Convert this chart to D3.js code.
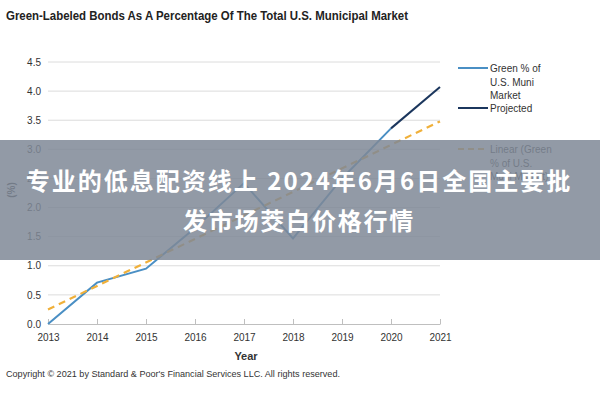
<!DOCTYPE html>
<html><head><meta charset="utf-8">
<script src="https://cdn.jsdelivr.net/npm/d3@7"></script>
<style>
html,body{margin:0;padding:0;background:#fff;}
svg{display:block;}
.narrow{font-family:"Liberation Sans Narrow","Arial Narrow","Liberation Sans",Arial,sans-serif;}
</style></head>
<body>
<svg id="c" width="600" height="400"></svg>
<script>
const years = [2013, 2014, 2015, 2016, 2017, 2018, 2019, 2020];
const greenPct = [0.0, 0.71, 0.95, 1.65, 2.42, 1.47, 2.50, 3.36];
const projYears = [2020, 2021];
const projected = [3.36, 4.07];
const trendYears = [2013, 2021];
const trendVals = [0.25, 3.48];
const xTicks = [2013, 2014, 2015, 2016, 2017, 2018, 2019, 2020, 2021];
const yTicks = [0, 0.5, 1, 1.5, 2, 2.5, 3, 3.5, 4, 4.5];
const legendItems = [
  {lines: ["Green % of", "U.S. Muni", "Market"], color: "#4a8fc4", dash: null},
  {lines: ["Projected"], color: "#1b365d", dash: null},
  {lines: ["Linear (Green", "% of U.S.", "Muni Market)"], color: "#f0b03a", dash: "6,4"}
];
const titleText = "Green-Labeled Bonds As A Percentage Of The Total U.S. Municipal Market";
const copyrightText = "Copyright \u00a9 2021 by Standard & Poor's Financial Services LLC. All rights reserved.";
const bannerLines = ["专业的低息配资线上 2024年6月6日全国主要批", "发市场茭白价格行情"];

const svg = d3.select("#c");
const x = d3.scaleLinear().domain([2013, 2021]).range([48, 440]);
const y = d3.scaleLinear().domain([0, 4.5]).range([324, 62]);

// title
svg.append("text").attr("class","narrow").attr("x",6).attr("y",20)
  .attr("font-size",12.5).attr("font-weight","bold").attr("fill","#222")
  .attr("textLength",402).attr("lengthAdjust","spacingAndGlyphs")
  .text(titleText);

// gridlines
svg.append("g").selectAll("line").data(yTicks.filter(d=>d>0)).join("line")
  .attr("x1",48).attr("x2",440).attr("y1",d=>y(d)).attr("y2",d=>y(d))
  .attr("stroke","#dcdcdc").attr("stroke-width",1);

// y axis
const yAxis = svg.append("g").attr("transform","translate(48,0)")
  .call(d3.axisLeft(y).tickValues(yTicks).tickFormat(d3.format(".1f")).tickSize(0).tickPadding(7));
yAxis.select(".domain").remove();
yAxis.selectAll("text").attr("class","narrow").attr("font-size",10).attr("fill","#333");

// x axis
const xAxis = svg.append("g").attr("transform","translate(0,324)")
  .call(d3.axisBottom(x).tickValues(xTicks).tickFormat(d3.format("d")).tickSize(-5).tickSizeOuter(0).tickPadding(10));
xAxis.select(".domain").attr("stroke","#bfbfbf");
xAxis.selectAll(".tick line").attr("stroke","#bfbfbf");
xAxis.selectAll("text").attr("class","narrow").attr("font-size",10).attr("fill","#333");

// axis titles
svg.append("text").attr("class","narrow").attr("transform","translate(15,190) rotate(-90)")
  .attr("text-anchor","middle").attr("font-size",10).attr("font-weight","bold").attr("fill","#333").text("(%)");
svg.append("text").attr("class","narrow").attr("x",246).attr("y",360)
  .attr("text-anchor","middle").attr("font-size",11).attr("font-weight","bold").attr("fill","#333").text("Year");

// lines
const line = d3.line().x(d=>x(d[0])).y(d=>y(d[1]));
svg.append("path").datum(years.map((d,i)=>[d,greenPct[i]]))
  .attr("d",line).attr("fill","none").attr("stroke","#4a8fc4").attr("stroke-width",2);
svg.append("path").datum(projYears.map((d,i)=>[d,projected[i]]))
  .attr("d",line).attr("fill","none").attr("stroke","#1b365d").attr("stroke-width",2);
svg.append("path").datum(trendYears.map((d,i)=>[d,trendVals[i]]))
  .attr("d",line).attr("fill","none").attr("stroke","#f0b03a").attr("stroke-width",2.2)
  .attr("stroke-dasharray","7,5");

// legend
const legTops = [72, 112, 153];
const leg = svg.append("g");
legendItems.forEach((it,i)=>{
  const ty = legTops[i];
  leg.append("line").attr("x1",458).attr("x2",488).attr("y1",ty-4).attr("y2",ty-4)
    .attr("stroke",it.color).attr("stroke-width",2).attr("stroke-dasharray",it.dash);
  it.lines.forEach((t,j)=>{
    leg.append("text").attr("class","narrow").attr("x",490).attr("y",ty+j*13.6)
      .attr("font-size",10).attr("fill","#333").text(t);
  });
});

// copyright
svg.append("text").attr("class","narrow").attr("x",6).attr("y",377)
  .attr("font-size",9.5).attr("fill","#333")
  .attr("textLength",334).attr("lengthAdjust","spacingAndGlyphs").text(copyrightText);

// banner overlay
svg.append("rect").attr("x",0).attr("y",140).attr("width",600).attr("height",120)
  .attr("fill","#7f8897").attr("fill-opacity",0.85);
const by = [190, 230];
bannerLines.forEach((t,i)=>{
  svg.append("text").attr("x",299).attr("y",by[i]).attr("text-anchor","middle")
    .attr("font-family","'Noto Sans CJK SC',sans-serif").attr("font-weight","bold")
    .attr("font-size",24).attr("letter-spacing",i===0?2:1.8).attr("fill","#fff").text(t);
});
</script>
</body></html>
